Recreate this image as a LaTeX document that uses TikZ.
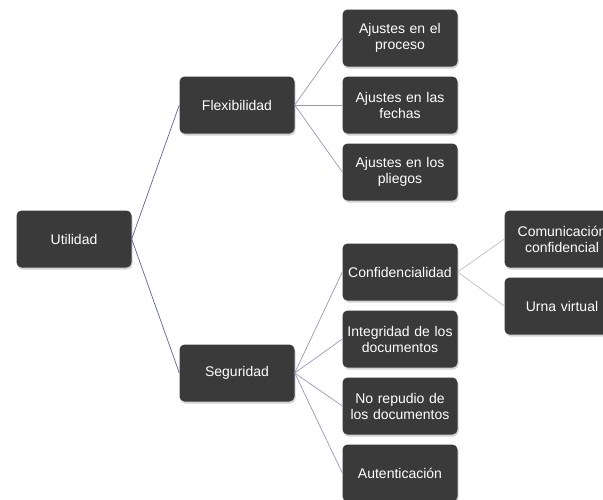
\documentclass[tikz,border=0pt]{standalone}
\usepackage{fontspec}
\setmainfont{Liberation Sans}
\usetikzlibrary{shadows}

\definecolor{boxgray}{RGB}{58,58,58}
\definecolor{linkone}{RGB}{95,95,165}
\definecolor{linktwo}{RGB}{150,150,195}
\definecolor{linkthree}{RGB}{190,190,200}

\begin{document}
\begin{tikzpicture}[x=1pt,y=-1pt,
  box/.style={draw=none, fill=boxgray, rounded corners=5pt, minimum width=115pt,
    minimum height=57pt, inner xsep=0pt, text width=115pt, align=center, text=white,
    font=\fontsize{14}{16}\selectfont, drop shadow={opacity=0.35, shadow xshift=1pt, shadow yshift=-2pt}},
  linkA/.style={draw=linkone, line width=0.7pt},
  linkB/.style={draw=linktwo, line width=0.7pt},
  linkC/.style={draw=linkthree, line width=0.7pt}]
\useasboundingbox (0,0) rectangle (603,499);

% root
\node[box] (util) at (74,239) {Utilidad};

% first level
\node[box] (flex) at (237,105) {Flexibilidad};
\node[box] (seg) at (237,373) {Seguridad};

% flexibilidad
\node[box] (proc) at (400,38) {Ajustes en el\\proceso};
\node[box] (fech) at (400,105) {Ajustes en las\\fechas};
\node[box] (plie) at (400,172) {Ajustes en los\\pliegos};

% seguridad
\node[box] (conf) at (400,272) {Confidencialidad};
\node[box] (integ) at (400,339) {Integridad de los\\documentos};
\node[box] (repud) at (400,406) {No repudio de\\los documentos};
\node[box] (auten) at (400,473) {Autenticación};

% confidencialidad
\node[box] (comu) at (562,239) {Comunicación\\confidencial};
\node[box] (urna) at (562,306) {Urna virtual};

\draw[linkA] (util.east) -- (flex.west);
\draw[linkA] (util.east) -- (seg.west);

\draw[linkB] (flex.east) -- (proc.west);
\draw[linkB] (flex.east) -- (fech.west);
\draw[linkB] (flex.east) -- (plie.west);

\draw[linkB] (seg.east) -- (conf.west);
\draw[linkB] (seg.east) -- (integ.west);
\draw[linkB] (seg.east) -- (repud.west);
\draw[linkB] (seg.east) -- (auten.west);

\draw[linkC] (conf.east) -- (comu.west);
\draw[linkC] (conf.east) -- (urna.west);
\end{tikzpicture}
\end{document}
